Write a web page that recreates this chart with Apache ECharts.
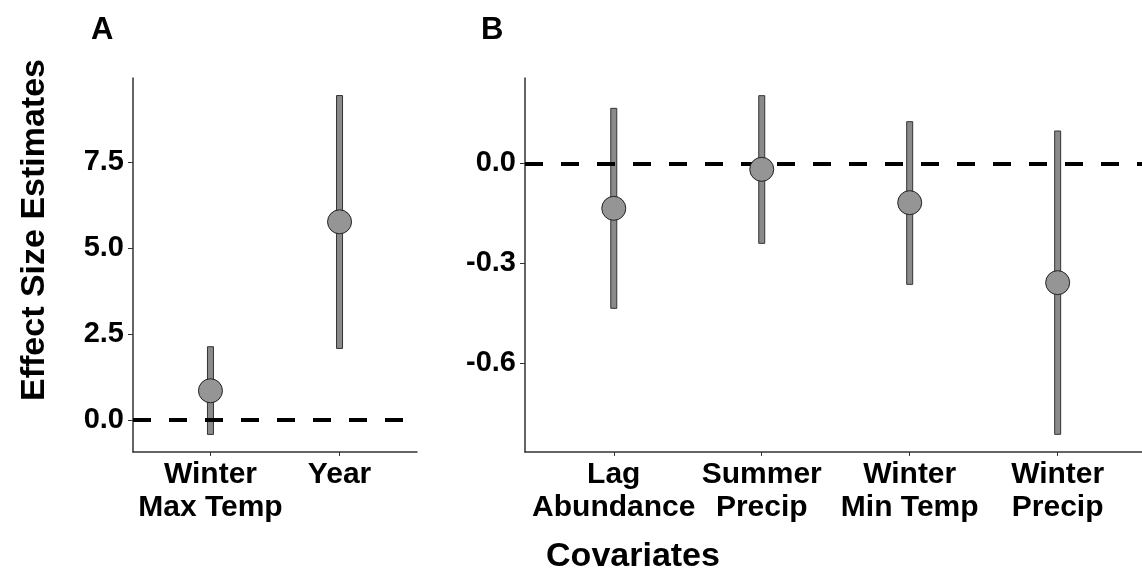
<!DOCTYPE html>
<html>
<head>
<meta charset="utf-8">
<script src="https://cdn.jsdelivr.net/npm/echarts@6/dist/echarts.min.js"></script>
<style>
  html, body { margin: 0; padding: 0; background: #fff; }
  #chart { width: 1142px; height: 577px; }
</style>
</head>
<body>
<div id="chart"></div>
<script>
// panel A
const catsA = ["Winter\nMax Temp", "Year"];
const estA = [0.85, 5.76];
const lowA = [-0.42, 2.08];
const highA = [2.13, 9.43];
const ticksA = [0, 2.5, 5, 7.5];

// panel B
const catsB = ["Lag\nAbundance", "Summer\nPrecip", "Winter\nMin Temp", "Winter\nPrecip"];
const estB = [-0.135, -0.018, -0.118, -0.358];
const lowB = [-0.435, -0.24, -0.363, -0.813];
const highB = [0.165, 0.203, 0.125, 0.097];
const ticksB = [-0.6, -0.3, 0];

const FONT = "Liberation Sans, Arial, sans-serif";
const chart = echarts.init(document.getElementById("chart"));

// error bar as a thin outlined rect
const barItem = (params, api) => {
  const x = api.value(0);
  const top = api.coord([x, api.value(2)]);
  const bot = api.coord([x, api.value(1)]);
  return {
    type: "rect",
    shape: { x: top[0] - 3, y: top[1], width: 6, height: bot[1] - top[1] },
    style: { fill: "#8a8a8a", stroke: "#333", lineWidth: 1 },
  };
};

const xAxisOf = (idx, cats, max) => ({
  type: "value",
  gridIndex: idx,
  min: 0.4,
  max: max,
  axisLine: { show: true, onZero: false, lineStyle: { color: "#333", width: 1.5 } },
  axisTick: { show: true, customValues: cats.map((c, i) => i + 1), length: 4, lineStyle: { color: "#333" } },
  axisLabel: {
    customValues: cats.map((c, i) => i + 1),
    formatter: (v) => cats[Math.round(v) - 1],
    color: "#000",
    fontFamily: FONT,
    fontWeight: "bold",
    fontSize: 30,
    lineHeight: 33,
    margin: 6,
  },
  splitLine: { show: false },
});

const yAxisOf = (idx, min, max, ticks) => ({
  type: "value",
  gridIndex: idx,
  min: min,
  max: max,
  axisLine: { show: true, onZero: false, lineStyle: { color: "#333", width: 1.5 } },
  axisTick: { show: true, customValues: ticks, length: 5, lineStyle: { color: "#333" } },
  axisLabel: {
    customValues: ticks,
    formatter: (v) => v.toFixed(1),
    color: "#000",
    fontFamily: FONT,
    fontWeight: "bold",
    fontSize: 29,
    margin: 9,
  },
  splitLine: { show: false },
});

const seriesOf = (idx, est, low, high) => [
  {
    type: "custom",
    xAxisIndex: idx,
    yAxisIndex: idx,
    renderItem: barItem,
    data: est.map((v, i) => [i + 1, low[i], high[i]]),
    z: 2,
    markLine: {
      silent: true,
      symbol: "none",
      label: { show: false },
      lineStyle: { color: "#000", width: 4, type: [18, 18] },
      data: [{ yAxis: 0 }],
    },
  },
  {
    type: "scatter",
    xAxisIndex: idx,
    yAxisIndex: idx,
    symbolSize: 24,
    itemStyle: { color: "#959595", borderColor: "#222", borderWidth: 1, opacity: 1 },
    data: est.map((v, i) => [i + 1, v]),
    z: 5,
  },
];

chart.setOption({
  animation: false,
  backgroundColor: "#fff",
  title: [
    { text: "A", left: 86, top: 10, textStyle: { fontFamily: FONT, fontWeight: "bold", fontSize: 31, color: "#000" } },
    { text: "B", left: 476, top: 10, textStyle: { fontFamily: FONT, fontWeight: "bold", fontSize: 31, color: "#000" } },
  ],
  graphic: [
    {
      type: "text",
      x: 35,
      y: 230,
      rotation: Math.PI / 2,
      style: {
        text: "Effect Size Estimates",
        font: "bold 34px " + FONT,
        fill: "#000",
        textAlign: "center",
        textVerticalAlign: "middle",
      },
    },
    {
      type: "text",
      x: 633,
      y: 557,
      style: {
        text: "Covariates",
        font: "bold 34px " + FONT,
        fill: "#000",
        textAlign: "center",
        textVerticalAlign: "middle",
      },
    },
  ],
  grid: [
    { left: 133, top: 78, width: 284, height: 374 },
    { left: 525, top: 78, width: 617, height: 374 },
  ],
  xAxis: [xAxisOf(0, catsA, 2.6), xAxisOf(1, catsB, 4.57)],
  yAxis: [yAxisOf(0, -0.93, 9.94, ticksA), yAxisOf(1, -0.866, 0.256, ticksB)],
  series: [...seriesOf(0, estA, lowA, highA), ...seriesOf(1, estB, lowB, highB)],
});
</script>
</body>
</html>
